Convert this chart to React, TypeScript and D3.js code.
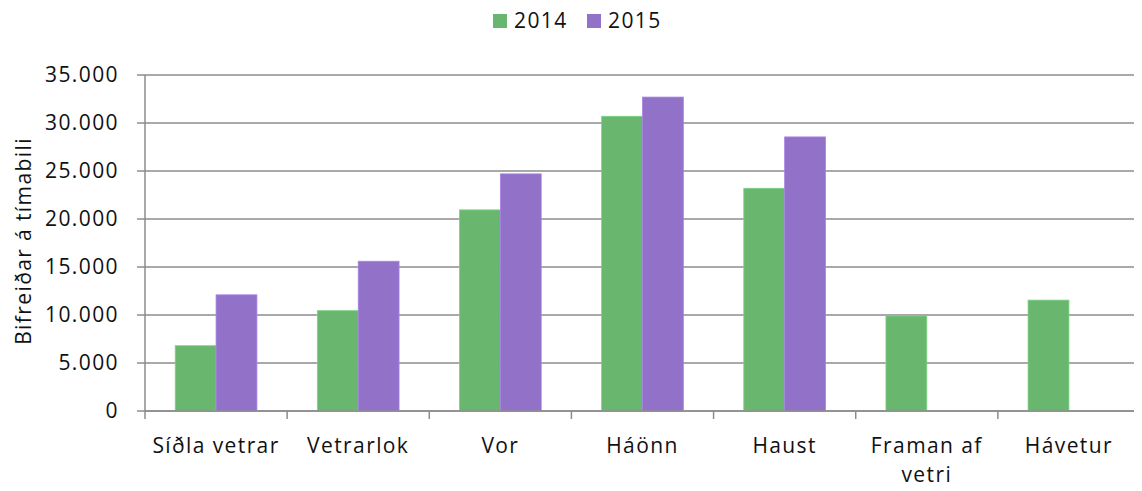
import React, { useEffect, useRef } from 'react';
import * as d3 from 'd3';

const categories = ['Síðla vetrar', 'Vetrarlok', 'Vor', 'Háönn', 'Haust', 'Framan af vetri', 'Hávetur'];
const series2014 = [6800, 10450, 20950, 30700, 23200, 9900, 11550];
const series2015 = [12100, 15600, 24700, 32700, 28550, null, null];
const seriesNames = ['2014', '2015'];
const seriesColors = ['#69b76f', '#9271c8'];
const yTicks = [0, 5000, 10000, 15000, 20000, 25000, 30000, 35000];

const W = 1142, H = 491;
const FONT = '"Open Sans", sans-serif';
const FS = 21;
const LS = 1.4;

const App = () => {
  const ref = useRef<SVGSVGElement | null>(null);

  useEffect(() => {
    if (!ref.current) return;
    const svg = d3.select(ref.current);
    svg.selectAll('*').remove();

    const margin = { top: 75, right: 2, bottom: 80, left: 145 };
    const width = W - margin.left - margin.right;
    const height = H - margin.top - margin.bottom;

    const g = svg.append('g').attr('transform', `translate(${margin.left},${margin.top})`);

    const x = d3.scaleBand().domain(categories).range([0, width]).paddingInner(0).paddingOuter(0);
    const inner = d3.scaleBand().domain(seriesNames).range([0, x.bandwidth()]).paddingInner(0).paddingOuter(0.74);
    const y = d3.scaleLinear().domain([0, 35000]).range([height, 0]);

    // gridlines
    g.append('g')
      .selectAll('line')
      .data(yTicks)
      .join('line')
      .attr('x1', -8)
      .attr('x2', width)
      .attr('y1', d => y(d))
      .attr('y2', d => y(d))
      .attr('stroke', '#8c8c8c')
      .attr('stroke-width', 1.5);

    // y labels
    const fmt = (v: number) => (v === 0 ? '0' : d3.format(',')(v).replace(/,/g, '.'));
    g.append('g')
      .selectAll('text')
      .data(yTicks)
      .join('text')
      .attr('x', -26)
      .attr('y', d => y(d))
      .attr('dy', '0.35em')
      .attr('text-anchor', 'end')
      .attr('font-family', FONT)
      .attr('font-size', FS)
      .attr('letter-spacing', LS)
      .attr('fill', '#111')
      .text(d => fmt(d));

    // bars
    const data = [series2014, series2015];
    data.forEach((vals, si) => {
      g.append('g')
        .selectAll('rect')
        .data(vals.map((v, i) => ({ v, c: categories[i] })).filter(d => d.v != null))
        .join('rect')
        .attr('x', d => (x(d.c) as number) + (inner(seriesNames[si]) as number))
        .attr('width', inner.bandwidth())
        .attr('y', d => y(d.v as number))
        .attr('height', d => height - y(d.v as number))
        .attr('fill', seriesColors[si])
        .attr('stroke', d3.color(seriesColors[si])!.brighter(0.4).toString())
        .attr('stroke-width', 0.8);
    });

    // axis lines + ticks
    g.append('line')
      .attr('x1', 0).attr('x2', 0)
      .attr('y1', 0).attr('y2', height + 8)
      .attr('stroke', '#8c8c8c').attr('stroke-width', 1.5);
    g.append('line')
      .attr('x1', 0).attr('x2', width)
      .attr('y1', height).attr('y2', height)
      .attr('stroke', '#8c8c8c').attr('stroke-width', 1.5);
    g.append('g')
      .selectAll('line')
      .data(categories)
      .join('line')
      .attr('x1', d => (x(d) as number) + x.bandwidth())
      .attr('x2', d => (x(d) as number) + x.bandwidth())
      .attr('y1', height)
      .attr('y2', height + 8)
      .attr('stroke', '#8c8c8c')
      .attr('stroke-width', 1.5);

    // category labels
    const labelLines: Record<string, string[]> = { 'Framan af vetri': ['Framan af', 'vetri'] };
    categories.forEach(c => {
      const lines = labelLines[c] || [c];
      const cx = (x(c) as number) + x.bandwidth() / 2;
      lines.forEach((l, i) => {
        g.append('text')
          .attr('x', cx)
          .attr('y', height + 42 + i * 29)
          .attr('text-anchor', 'middle')
          .attr('font-family', FONT)
          .attr('font-size', FS)
          .attr('letter-spacing', LS)
          .attr('fill', '#111')
          .text(l);
      });
    });

    // y title
    svg.append('text')
      .attr('transform', `translate(31,${margin.top + height / 2 - 2}) rotate(-90)`)
      .attr('text-anchor', 'middle')
      .attr('font-family', FONT)
      .attr('font-size', FS)
      .attr('letter-spacing', LS)
      .attr('fill', '#111')
      .text('Bifreiðar á tímabili');

    // legend
    const legend = svg.append('g').attr('transform', 'translate(493,13)');
    const offsets = [0, 94];
    seriesNames.forEach((n, i) => {
      legend.append('rect')
        .attr('x', offsets[i]).attr('y', 1)
        .attr('width', 14).attr('height', 14)
        .attr('fill', seriesColors[i]);
      legend.append('text')
        .attr('x', offsets[i] + 21).attr('y', 8)
        .attr('dy', '0.35em')
        .attr('font-family', FONT)
        .attr('font-size', FS)
        .attr('letter-spacing', LS)
        .attr('fill', '#111')
        .text(n);
    });
  }, []);

  return <svg ref={ref} width={W} height={H} style={{ display: 'block', margin: '-8px', background: '#fff' }} />;
};

export default App;
